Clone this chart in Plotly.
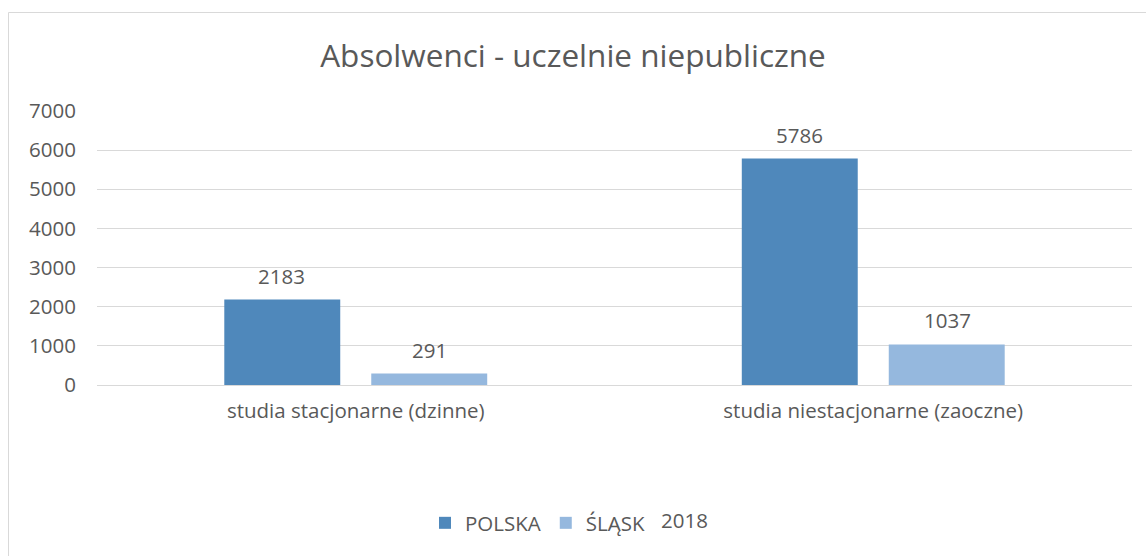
import plotly.graph_objects as go

categories = ["studia stacjonarne (dzinne)", "studia niestacjonarne (zaoczne)"]
series_names = ["POLSKA", "ŚLĄSK"]
polska = [2183, 5786]
slask = [291, 1037]
y_ticks = [0, 1000, 2000, 3000, 4000, 5000, 6000, 7000]
title_text = "Absolwenci - uczelnie niepubliczne"
year_label = "2018"

colors = ["#4f88bb", "#95b8de"]
FONT = "Open Sans"
TXT = "#595959"
FS = 20.5

fig = go.Figure()
for name, vals, col in zip(series_names, [polska, slask], colors):
    fig.add_trace(go.Bar(x=categories, y=vals, name=name, marker_color=col,
                         marker_line_width=0))

# data labels
for i, vals in enumerate([polska, slask]):
    shift = -74 if i == 0 else 74
    for c, v in zip(categories, vals):
        fig.add_annotation(x=c, y=v, text=str(v), showarrow=False, xshift=shift,
                           yanchor="bottom", yshift=8,
                           font=dict(family=FONT, size=FS, color=TXT))

fig.add_annotation(xref="paper", yref="paper", x=(684 - 97) / 1035, y=(385 - 520) / 274,
                   text=year_label, showarrow=False, xanchor="center", yanchor="middle",
                   font=dict(family=FONT, size=FS, color=TXT))

fig.add_shape(type="rect", xref="paper", yref="paper",
              x0=(8.5 - 97) / 1035, x1=1.2, y0=-1.5, y1=1 + (111 - 12.5) / 274,
              line=dict(color="#d9d9d9", width=1), fillcolor="rgba(0,0,0,0)", layer="below")

fig.update_layout(
    width=1146, height=556,
    margin=dict(l=97, r=14, t=111, b=171),
    paper_bgcolor="white", plot_bgcolor="white",
    title=dict(text=title_text, x=0.5, xref="container", xanchor="center",
               y=1 - 56 / 556, yanchor="middle",
               font=dict(family=FONT, size=31.5, color=TXT)),
    bargap=0.432, bargroupgap=0.211,
    barmode="group",
    legend=dict(orientation="h", x=(425 - 97) / 1035, xanchor="left",
                y=(385 - 523) / 274, yanchor="middle",
                font=dict(family=FONT, size=FS, color=TXT),
                itemwidth=30, traceorder="normal"),
    font=dict(family=FONT, color=TXT),
    showlegend=True,
)
fig.update_xaxes(showgrid=False, showline=False, zeroline=False,
                 tickfont=dict(family=FONT, size=FS, color=TXT),
                 ticklabelstandoff=11)
fig.update_yaxes(range=[0, 7000], tickvals=y_ticks, showgrid=True, gridcolor="#d9d9d9",
                 gridwidth=1, zeroline=True, zerolinecolor="#d9d9d9", zerolinewidth=1,
                 showline=False,
                 tickfont=dict(family=FONT, size=FS, color=TXT),
                 ticklabelstandoff=20)

fig.write_html("out.html", config={"displayModeBar": False},
               post_script="document.body.style.margin='0';")
